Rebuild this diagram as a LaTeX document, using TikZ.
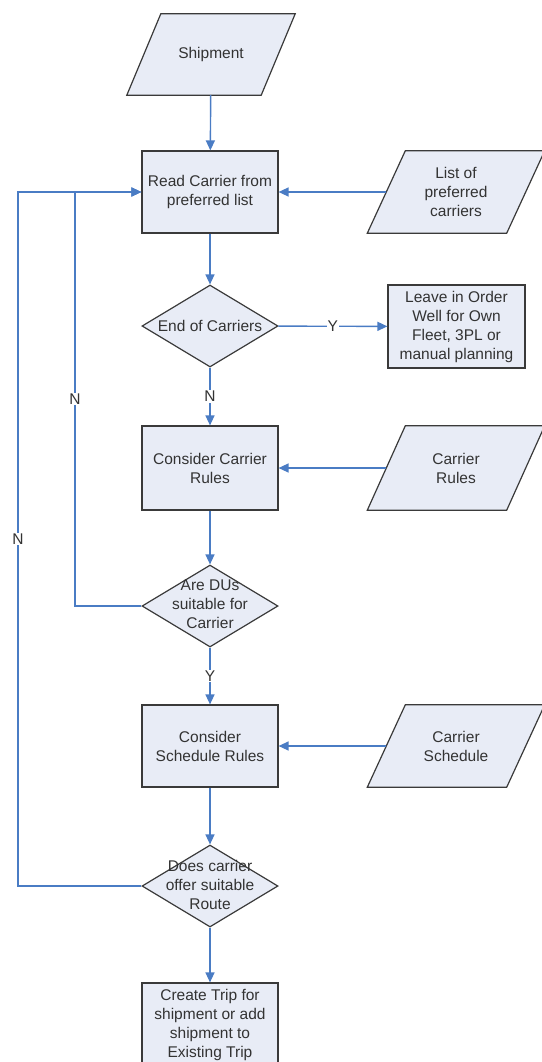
\documentclass[tikz,border=0pt]{standalone}
\usepackage{fontspec}
\setmainfont{Liberation Sans}
\usetikzlibrary{shapes.geometric,arrows.meta,backgrounds}
\definecolor{fillc}{HTML}{E8ECF6}
\definecolor{edgec}{HTML}{3A3A3A}
\definecolor{linec}{HTML}{4A7CC4}
\definecolor{txtc}{HTML}{333333}
\newcommand{\diafont}{\fontsize{15.5}{19}\selectfont}
\newcommand{\drawio}[2]{\draw[iopath] ([xshift=-#2]#1.south west) -- ([xshift=-#2]#1.south east) -- ([xshift=#2]#1.north east) -- ([xshift=#2]#1.north west) -- cycle;}
\begin{document}
\begin{tikzpicture}[x=1pt,y=-1pt,
 proc/.style={rectangle, draw=edgec, fill=fillc, line width=1.2pt, minimum width=136pt, minimum height=82pt, align=center, text=txtc, font=\diafont, inner sep=2pt},
 dec/.style={diamond, draw=edgec, fill=fillc, line width=1.2pt, minimum width=136pt, minimum height=82pt, inner sep=0pt},
 declab/.style={align=center, text=txtc, font=\diafont, inner sep=0pt},
 io/.style={rectangle, minimum width=139pt, minimum height=82pt, align=center, text=txtc, font=\diafont, inner sep=1pt},
 iopath/.style={draw=edgec, fill=fillc, line width=1.2pt, line join=miter},
 conn/.style={draw=linec, line width=1.4pt, -{Triangle[length=10pt,width=9pt]}},
 lab/.style={fill=white, text=txtc, font=\diafont, inner sep=1pt}]
\useasboundingbox (0,0) rectangle (541,1062);
\clip (0,0) rectangle (541,1062);

\coordinate (innerx) at (75,0);
\coordinate (outerx) at (18,0);

\node[io, minimum width=134pt, minimum height=81pt] (ship) at (211,54.5) {Shipment};
\node[proc] (read) at (210,192) {Read Carrier from\\preferred list};
\node[io] (list) at (456,192) {List of\\preferred\\carriers};
\node[dec, label={[declab]center:End of Carriers}] (endc) at (210,326) {};
\node[proc, minimum width=137pt, minimum height=83pt] (leave) at (456.5,326.5) {Leave in Order\\Well for Own\\Fleet, 3PL or\\manual planning};
\node[proc, minimum height=84pt] (ccr) at (210,468) {Consider Carrier\\Rules};
\node[io, minimum height=84pt] (crules) at (456,468) {Carrier\\Rules};
\node[dec, label={[declab, yshift=2pt]center:Are DUs\\suitable for\\Carrier}] (dus) at (210,606) {};
\node[proc] (csr) at (210,746) {Consider\\Schedule Rules};
\node[io] (csched) at (456,746) {Carrier\\Schedule};
\node[dec, label={[declab, yshift=1pt]center:Does carrier\\offer suitable\\Route}] (route) at (210,886) {};
\node[proc, minimum height=84pt] (trip) at (210,1025) {Create Trip for\\shipment or add\\shipment to\\Existing Trip};

\begin{scope}[on background layer]
\fill[white] (0,0) rectangle (541,1062);
\drawio{ship}{17pt}
\drawio{list}{19pt}
\drawio{crules}{19pt}
\drawio{csched}{19pt}
\end{scope}

\draw[conn] (ship) -- (read);
\draw[conn] (list) -- (read);
\draw[conn] (read) -- (endc);
\draw[conn] (endc) -- node[lab] (ylab1) {Y} (leave);
\draw[conn] (endc) -- node[lab] (nlab1) {N} (ccr);
\draw[conn] (crules) -- (ccr);
\draw[conn] (ccr) -- (dus);
\draw[conn] (dus.west) -| node[lab, pos=0.75] (nlab2) {N} (innerx |- read.west) -- (read.west);
\draw[conn] (dus) -- node[lab] (ylab2) {Y} (csr);
\draw[conn] (csched) -- (csr);
\draw[conn] (csr) -- (route);
\draw[conn] (route.west) -| node[lab, pos=0.75] (nlab3) {N} (outerx |- read.west) -- (read.west);
\draw[conn] (route) -- (trip);
\end{tikzpicture}
\end{document}
